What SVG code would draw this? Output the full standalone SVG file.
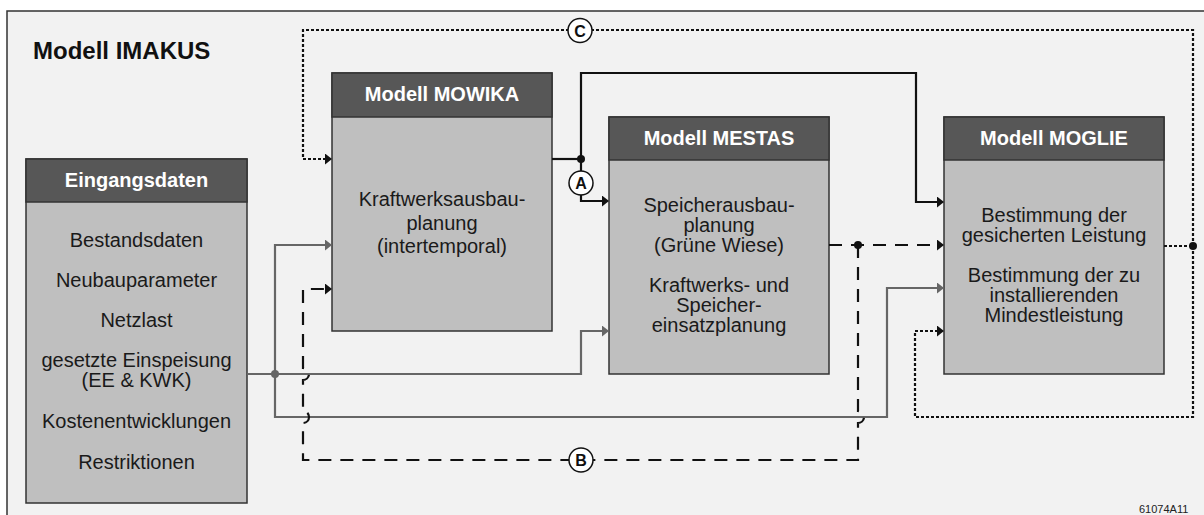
<svg xmlns="http://www.w3.org/2000/svg" width="1204" height="515" viewBox="0 0 1204 515">
<style>
.frame{fill:#f2f2f2;stroke:#333;stroke-width:1.5}
.body{fill:#bfbfbf;stroke:#333;stroke-width:1.5}
.head{fill:#575757;stroke:#333;stroke-width:1.5}
.ht{font-family:"Liberation Sans",Arial,sans-serif;font-weight:bold;font-size:20px;fill:#fff;text-anchor:middle}
.bt{font-family:"Liberation Sans",Arial,sans-serif;font-size:20px;fill:#1a1a1a;text-anchor:middle}
.title{font-family:"Liberation Sans",Arial,sans-serif;font-weight:bold;font-size:24px;fill:#111}
.blk{fill:none;stroke:#111;stroke-width:2.2}
.gry{fill:none;stroke:#666;stroke-width:2.2}
.dsh{fill:none;stroke:#111;stroke-width:2.2;stroke-dasharray:13 9}
.dot{fill:none;stroke:#111;stroke-width:2.2;stroke-dasharray:3 2}
.lbl circle{fill:#fff;stroke:#111;stroke-width:1.5}
.lbl text{font-family:"Liberation Sans",Arial,sans-serif;font-weight:bold;font-size:16px;fill:#111;text-anchor:middle}
.code{font-family:"Liberation Sans",Arial,sans-serif;font-size:11px;fill:#222}
</style>
<defs>
<marker id="ab" markerUnits="userSpaceOnUse" markerWidth="8" markerHeight="12" refX="2" refY="5.5" orient="auto"><path d="M0,0 L7,5.5 L0,11 z" fill="#111"/></marker>
<marker id="ag" markerUnits="userSpaceOnUse" markerWidth="8" markerHeight="12" refX="2" refY="5.5" orient="auto"><path d="M0,0 L7,5.5 L0,11 z" fill="#666"/></marker>
</defs>
<rect x="0" y="0" width="1204" height="515" fill="#fff"/>
<rect class="frame" x="7" y="11" width="1210" height="520"/>
<text class="title" x="33" y="59">Modell IMAKUS</text>

<g id="eingangsdaten">
<rect class="body" x="26" y="159" width="221" height="344"/>
<rect class="head" x="26" y="159" width="221" height="43"/>
<text class="ht" x="136.5" y="187">Eingangsdaten</text>
<text class="bt" x="136.5" y="247">Bestandsdaten</text>
<text class="bt" x="136.5" y="287">Neubauparameter</text>
<text class="bt" x="136.5" y="327">Netzlast</text>
<text class="bt" x="136.5" y="367">gesetzte Einspeisung</text>
<text class="bt" x="136.5" y="387">(EE &amp; KWK)</text>
<text class="bt" x="136.5" y="428">Kostenentwicklungen</text>
<text class="bt" x="136.5" y="469">Restriktionen</text>
</g>

<g id="mowika">
<rect class="body" x="332" y="73" width="220" height="258"/>
<rect class="head" x="332" y="73" width="220" height="44"/>
<text class="ht" x="442" y="101">Modell MOWIKA</text>
<text class="bt" x="442" y="206">Kraftwerksausbau-</text>
<text class="bt" x="442" y="229.5">planung</text>
<text class="bt" x="442" y="253">(intertemporal)</text>
</g>

<g id="mestas">
<rect class="body" x="609" y="117" width="220" height="257"/>
<rect class="head" x="609" y="117" width="220" height="43"/>
<text class="ht" x="719" y="144.5">Modell MESTAS</text>
<text class="bt" x="719" y="212">Speicherausbau-</text>
<text class="bt" x="719" y="232">planung</text>
<text class="bt" x="719" y="252">(Grüne Wiese)</text>
<text class="bt" x="719" y="292">Kraftwerks- und</text>
<text class="bt" x="719" y="312">Speicher-</text>
<text class="bt" x="719" y="332">einsatzplanung</text>
</g>

<g id="moglie">
<rect class="body" x="944" y="117" width="220" height="257"/>
<rect class="head" x="944" y="117" width="220" height="43"/>
<text class="ht" x="1054" y="144.5">Modell MOGLIE</text>
<text class="bt" x="1054" y="222">Bestimmung der</text>
<text class="bt" x="1054" y="242">gesicherten Leistung</text>
<text class="bt" x="1054" y="282">Bestimmung der zu</text>
<text class="bt" x="1054" y="302">installierenden</text>
<text class="bt" x="1054" y="322">Mindestleistung</text>
</g>

<g id="connectors">
<path class="gry" d="M247,374 L581,374 L581,331 L604,331" marker-end="url(#ag)"/>
<path class="gry" d="M275,374 L275,245 L327,245" marker-end="url(#ag)"/>
<path class="gry" d="M275,374 L275,417 L887,417 L887,288 L939,288" marker-end="url(#ag)"/>
<circle cx="275" cy="374" r="4" fill="#666"/>
<path class="blk" d="M552,159 L581,159"/>
<path class="blk" d="M581,159 L581,73 L916,73 L916,202 L939,202" marker-end="url(#ab)"/>
<path class="blk" d="M581,159 L581,201 L604,201" marker-end="url(#ab)"/>
<circle cx="581" cy="159" r="4" fill="#111"/>
<path class="dsh" d="M829,245 L939,245" marker-end="url(#ab)"/>
<path class="dsh" d="M858,245 L858,411 A6,6 0 0 1 858,423 L858,460 L303,460 L303,423 A6,6 0 0 0 303,411 L303,380 A6,6 0 0 0 303,368 L303,289 L327,289" marker-end="url(#ab)"/>
<circle cx="858" cy="245" r="4" fill="#111"/>
<path class="dot" d="M1164,246 L1193,246"/>
<path class="dot" d="M1193,246 L1193,30 L303,30 L303,159 L327,159" marker-end="url(#ab)"/>
<path class="dot" d="M1193,246 L1193,417 L915,417 L915,331 L939,331" marker-end="url(#ab)"/>
<circle cx="1193" cy="246" r="4" fill="#111"/>
<g class="lbl">
<circle cx="581" cy="183" r="12"/><text x="581" y="189">A</text>
<circle cx="581" cy="460" r="12"/><text x="581" y="466">B</text>
<circle cx="580" cy="30.5" r="12"/><text x="580" y="36.5">C</text>
</g>
</g>
<text class="code" x="1139" y="513">61074A11</text>
</svg>
